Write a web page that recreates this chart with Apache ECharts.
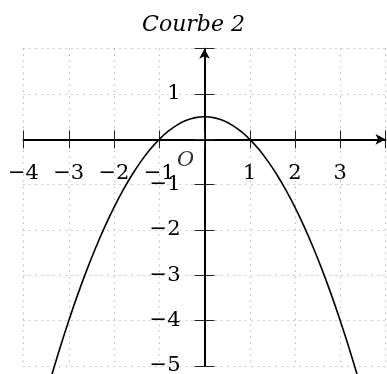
<!DOCTYPE html>
<html>
<head>
<meta charset="utf-8">
<title>Courbe 2</title>
<script src="https://cdn.jsdelivr.net/npm/echarts@6/dist/echarts.min.js"></script>
<style>
  html, body { margin: 0; padding: 0; background: #fff; }
  #main { width: 387px; height: 374px; }
</style>
</head>
<body>
<div id="main"></div>
<script>
// valeurs
var courbeX = [-3.4, -3.2, -3.0, -2.8, -2.6, -2.4, -2.2, -2.0, -1.8, -1.6, -1.4, -1.2, -1.0, -0.8, -0.6, -0.4, -0.2,
    0, 0.2, 0.4, 0.6, 0.8, 1.0, 1.2, 1.4, 1.6, 1.8, 2.0, 2.2, 2.4, 2.6, 2.8, 3.0, 3.2, 3.4];
var courbeY = [-5.28, -4.62, -4.0, -3.42, -2.88, -2.38, -1.92, -1.5, -1.12, -0.78, -0.48, -0.22, 0, 0.18, 0.32, 0.42, 0.48,
    0.5, 0.48, 0.42, 0.32, 0.18, 0, -0.22, -0.48, -0.78, -1.12, -1.5, -1.92, -2.38, -2.88, -3.42, -4.0, -4.62, -5.28];
// bornes du repère
var xMin = -4, xMax = 4;
var yMin = -5, yMax = 2;
var titre = 'Courbe 2';
var origine = 'O';

var police = 'DejaVu Serif';
var W = 387, H = 374;
var grille = { left: 23.5, right: 1.5, top: 48.7, bottom: 8 };

function etiquette(v, cache) {
    if (v === 0 || v === cache) return '';
    return v < 0 ? '\u2212' + (-v) : String(v);
}

var points = [];
for (var i = 0; i < courbeX.length; i++) {
    points.push([courbeX[i], courbeY[i]]);
}

// les axes passent par l'origine : decalage depuis les bords de la grille
var largeur = W - grille.left - grille.right;
var hauteur = H - grille.top - grille.bottom;
var dx = (0 - xMin) / (xMax - xMin) * largeur;      // depuis le bord gauche
var dy = (yMax - 0) / (yMax - yMin) * hauteur;      // depuis le bord haut

var trait = { color: '#222', width: 1 };
var pointille = { color: '#999', width: 1, type: [1, 5] };

var chart = echarts.init(document.getElementById('main'));
chart.setOption({
    animation: false,
    title: {
        text: titre,
        left: 'center',
        top: 9,
        textStyle: { fontFamily: police, fontStyle: 'italic', fontWeight: 'normal', fontSize: 22, color: '#000' }
    },
    grid: { left: grille.left, right: grille.right, top: grille.top, bottom: grille.bottom, outerBoundsMode: 'none' },
    xAxis: [{
        type: 'value', min: xMin, max: xMax, interval: 1, position: 'bottom', offset: -(hauteur - dy),
        axisLine: { onZero: false, symbol: ['none', 'arrow'], symbolSize: [8, 10],
            lineStyle: { color: '#000', width: 2 } },
        axisTick: { inside: false, length: 9, lineStyle: trait },
        axisLabel: { margin: 24, fontFamily: police, fontSize: 21, color: '#000',
            formatter: function (v) { return etiquette(v, xMax); } },
        splitLine: { show: true, lineStyle: pointille }
    }, {
        type: 'value', min: xMin, max: xMax, interval: 1, position: 'top', offset: -dy,
        axisLine: { show: false, onZero: false },
        axisTick: { inside: false, length: 9, lineStyle: trait },
        axisLabel: { show: false },
        splitLine: { show: false }
    }],
    yAxis: [{
        type: 'value', min: yMin, max: yMax, interval: 1, position: 'left', offset: -dx,
        axisLine: { onZero: false, symbol: ['none', 'arrow'], symbolSize: [8, 10],
            lineStyle: { color: '#000', width: 2 } },
        axisTick: { inside: false, length: 10, lineStyle: trait },
        axisLabel: { margin: 24, fontFamily: police, fontSize: 21, color: '#000',
            formatter: function (v) { return etiquette(v, yMax); } },
        splitLine: { show: true, lineStyle: pointille }
    }, {
        type: 'value', min: yMin, max: yMax, interval: 1, position: 'right', offset: -(largeur - dx),
        axisLine: { show: false, onZero: false },
        axisTick: { inside: false, length: 10, lineStyle: trait },
        axisLabel: { show: false },
        splitLine: { show: false }
    }],
    series: [{
        type: 'line',
        data: points,
        smooth: 0.3,
        showSymbol: false,
        clip: false,
        lineStyle: { color: '#000', width: 1.6 }
    }, {
        type: 'scatter',
        data: [[0, 0]],
        symbolSize: 0,
        silent: true,
        label: {
            show: true, position: 'inside', offset: [-19, 21], formatter: origine,
            fontFamily: police, fontStyle: 'italic', fontSize: 21, color: '#000'
        }
    }]
});
</script>
</body>
</html>
